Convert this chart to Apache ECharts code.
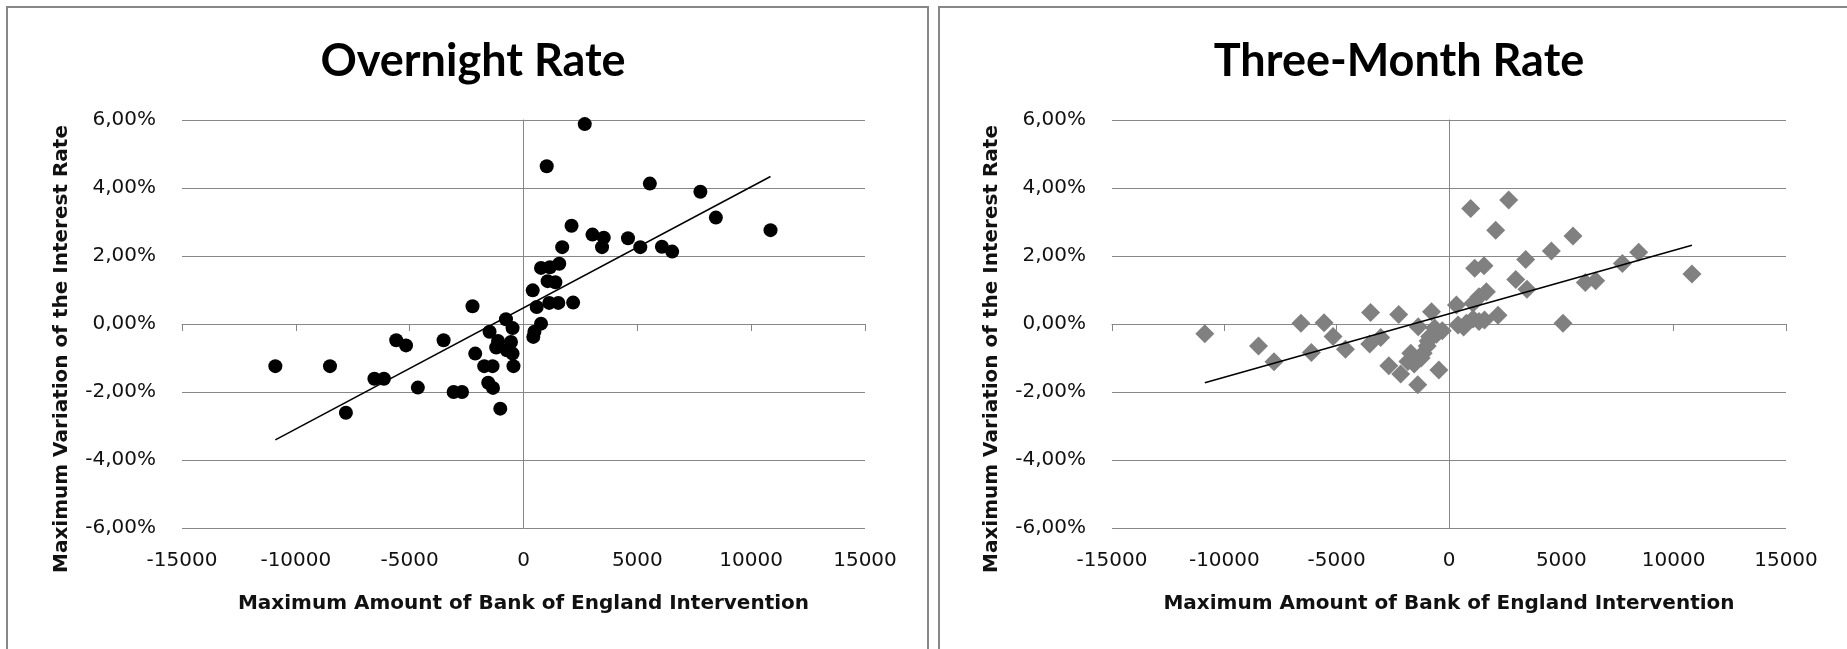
<!DOCTYPE html>
<html>
<head>
<meta charset="utf-8">
<script src="https://cdn.jsdelivr.net/npm/echarts@6.0.0/dist/echarts.min.js"></script>
<style>
  html, body { margin: 0; padding: 0; background: #ffffff; }
  #chart { width: 1847px; height: 649px; }
</style>
</head>
<body>
<div id="chart"></div>
<script>
// ---- Data ----
const chartTitles = ['Overnight Rate', 'Three-Month Rate'];
const xAxisTitle = 'Maximum Amount of Bank of England Intervention';
const yAxisTitle = 'Maximum Variation of the Interest Rate';
const xTicks = { min: -15000, max: 15000, step: 5000 };
const yTicks = { min: -6, max: 6, step: 2 };   // percent

const overnightX = [-10900,-8500,-7800,-6550,-6130,-5590,-5160,-4640,-3510,-3070,-2700,-2240,-2120,-1725,-1360,-1550,-1340,-1490,-1020,-1120,-1200,-730,-550,-480,-440,-770,-480,430,480,770,580,405,1130,1530,2180,1060,1400,770,1160,1570,1700,2110,3030,3525,3450,4590,5130,6080,6530,1020,2690,5550,7770,8450,10850];
const overnightY = [-1.24,-1.24,-2.61,-1.61,-1.61,-0.48,-0.63,-1.87,-0.48,-2.00,-2.00,0.52,-0.87,-1.24,-1.24,-1.73,-1.88,-0.23,-2.49,-0.50,-0.69,-0.77,-0.53,-0.87,-1.24,0.14,-0.12,-0.38,-0.23,0.01,0.50,0.99,0.62,0.62,0.63,1.26,1.23,1.65,1.67,1.77,2.26,2.89,2.63,2.54,2.26,2.52,2.26,2.27,2.13,4.64,5.88,4.13,3.89,3.13,2.76];

const threeMonthX = [-10870,-8480,-7790,-6590,-6125,-5560,-5160,-4610,-3490,-3530,-3040,-2680,-2240,-2150,-1830,-1700,-1550,-1390,-1370,-1240,-1150,-970,-930,-860,-780,-640,-560,-450,-300,330,400,650,774,1070,1070,1335,1335,1580,1664,1144,1558,966,2181,2078,2657,2970,3413,3470,4557,5073,5518,6068,6528,7716,8442,10814];
const threeMonthY = [-0.29,-0.65,-1.11,0.02,-0.84,0.04,-0.37,-0.74,0.34,-0.59,-0.40,-1.23,0.28,-1.47,-1.10,-0.86,-1.18,-1.79,-0.08,-1.00,-0.86,-0.65,-0.50,-0.37,0.36,-0.12,-0.30,-1.35,-0.20,0.56,-0.03,-0.09,0.02,0.61,0.15,0.80,0.07,0.12,0.95,1.64,1.71,3.40,0.26,2.76,3.65,1.31,1.90,1.02,2.15,0.02,2.59,1.22,1.27,1.78,2.11,1.47];

// ---- helpers ----
function pairs(xs, ys) { return xs.map((x, i) => [x, ys[i]]); }
function trend(xs, ys) {
  const n = xs.length;
  let sx = 0, sy = 0, sxx = 0, sxy = 0;
  for (let i = 0; i < n; i++) { sx += xs[i]; sy += ys[i]; sxx += xs[i]*xs[i]; sxy += xs[i]*ys[i]; }
  const b = (n*sxy - sx*sy) / (n*sxx - sx*sx);
  const a = (sy - b*sx) / n;
  const lo = Math.min(...xs), hi = Math.max(...xs);
  return [[lo, a + b*lo], [hi, a + b*hi]];
}

const GRAY = '#878787';
const TXT = '#111111';
const grids = [
  { left: 182, top: 120, width: 683, height: 408 },
  { left: 1112, top: 120, width: 674, height: 408 }
];

const xAxes = [], yAxes = [];
grids.forEach((g, gi) => {
  // label axis (bottom)
  xAxes.push({
    gridIndex: gi, type: 'value', min: xTicks.min, max: xTicks.max, interval: xTicks.step,
    position: 'bottom',
    axisLine: { show: false, onZero: false }, axisTick: { show: false }, splitLine: { show: false },
    axisLabel: { show: true, margin: 23, color: TXT, fontFamily: 'DejaVu Sans', fontSize: 20,
      formatter: v => String(v) },
    name: xAxisTitle, nameLocation: 'middle', nameGap: 66,
    nameTextStyle: { fontFamily: 'DejaVu Sans', fontWeight: 'bold', fontSize: 20, color: TXT }
  });
  // zero line axis with ticks
  xAxes.push({
    gridIndex: gi, type: 'value', min: xTicks.min, max: xTicks.max, interval: xTicks.step,
    position: 'top',
    axisLine: { show: true, onZero: true, lineStyle: { color: GRAY, width: 1 } },
    axisTick: { show: true, inside: true, length: 7, lineStyle: { color: GRAY, width: 1 } },
    axisLabel: { show: false }, splitLine: { show: false }
  });
  yAxes.push({
    gridIndex: gi, type: 'value', min: yTicks.min, max: yTicks.max, interval: yTicks.step,
    position: 'left',
    axisLine: { show: false, onZero: false }, axisTick: { show: false },
    splitLine: { show: true, lineStyle: { color: GRAY, width: 1 } },
    axisLabel: { show: true, margin: 26, color: TXT, fontFamily: 'DejaVu Sans', fontSize: 20,
      formatter: v => v.toFixed(2).replace('.', ',') + '%' },
    name: yAxisTitle, nameLocation: 'middle', nameGap: 110, nameRotate: 90,
    nameTextStyle: { fontFamily: 'DejaVu Sans', fontWeight: 'bold', fontSize: 20, color: TXT,
      padding: [0, 50, 0, 0] }
  });
  yAxes.push({
    gridIndex: gi, type: 'value', min: yTicks.min, max: yTicks.max, interval: yTicks.step,
    position: 'right',
    axisLine: { show: true, onZero: true, lineStyle: { color: GRAY, width: 1 } },
    axisTick: { show: false }, axisLabel: { show: false }, splitLine: { show: false }
  });
});

const chart = echarts.init(document.getElementById('chart'), null, { renderer: 'canvas' });
chart.setOption({
  animation: false,
  backgroundColor: '#ffffff',
  title: [
    { text: chartTitles[0], left: 468, top: 34, textAlign: 'center',
      textStyle: { fontFamily: 'Lato', fontWeight: 'bold', fontSize: 45, color: '#000' } },
    { text: chartTitles[1], left: 1394, top: 34, textAlign: 'center',
      textStyle: { fontFamily: 'Lato', fontWeight: 'bold', fontSize: 45, color: '#000' } }
  ],
  graphic: [
    { type: 'rect', shape: { x: 7, y: 7, width: 921, height: 700 }, style: { fill: 'none', stroke: GRAY, lineWidth: 2 }, silent: true },
    { type: 'rect', shape: { x: 939, y: 7, width: 950, height: 700 }, style: { fill: 'none', stroke: GRAY, lineWidth: 2 }, silent: true }
  ],
  grid: grids.map(g => Object.assign({ outerBoundsMode: 'none', containLabel: false }, g)),
  xAxis: xAxes,
  yAxis: yAxes,
  series: [
    { type: 'scatter', xAxisIndex: 0, yAxisIndex: 0, symbol: 'circle', symbolSize: 14,
      itemStyle: { color: '#000000', opacity: 1 }, data: pairs(overnightX, overnightY), z: 3 },
    { type: 'line', xAxisIndex: 0, yAxisIndex: 0, showSymbol: false, symbol: 'none',
      lineStyle: { color: '#000000', width: 1.5 }, data: trend(overnightX, overnightY), z: 4 },
    { type: 'scatter', xAxisIndex: 2, yAxisIndex: 2, symbol: 'diamond', symbolSize: 19,
      itemStyle: { color: '#808080', opacity: 1 }, data: pairs(threeMonthX, threeMonthY), z: 3 },
    { type: 'line', xAxisIndex: 2, yAxisIndex: 2, showSymbol: false, symbol: 'none',
      lineStyle: { color: '#000000', width: 1.5 }, data: trend(threeMonthX, threeMonthY), z: 4 }
  ]
});
</script>
</body>
</html>
